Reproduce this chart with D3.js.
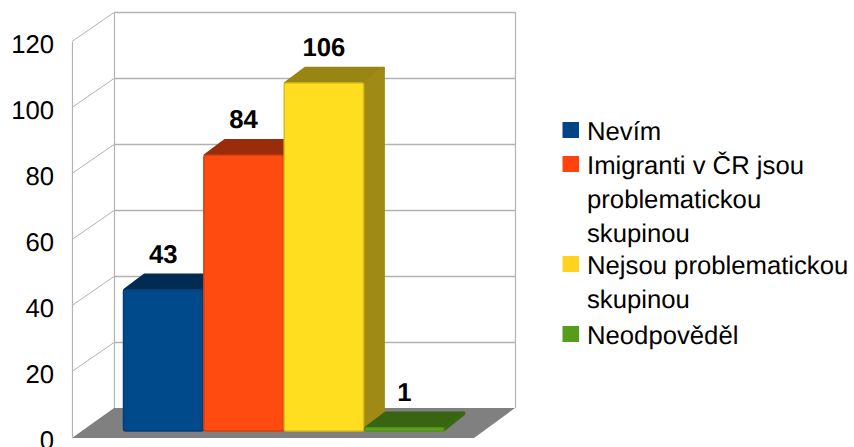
<!DOCTYPE html>
<html><head><meta charset="utf-8">
<script src="https://cdn.jsdelivr.net/npm/d3@7"></script>
<style>html,body{margin:0;padding:0;background:#fff}svg{display:block}text{font-family:"Liberation Sans",Arial,sans-serif;fill:#000;text-rendering:geometricPrecision}</style>
</head><body><svg id="c" width="854" height="447"></svg>
<script>
const categories=["Nevím","Imigranti v ČR jsou problematickou skupinou","Nejsou problematickou skupinou","Neodpověděl"];
const legendLines=[["Nevím"],["Imigranti v ČR jsou","problematickou","skupinou"],["Nejsou problematickou","skupinou"],["Neodpověděl"]];
const values=[43,84,106,1];
const colors=["#004586","#ff420e","#ffd320","#579d1c"];
const barColors=["#004a8c","#ff4a10","#ffde20","#5fa81e"];
const tickValues=[0,20,40,60,80,100,120];

const svg=d3.select("#c");
const yBack=d3.scaleLinear().domain([0,120]).range([408,12]);
const yFront=d3.scaleLinear().domain([0,120]).range([431,37]);
const x=d3.scaleBand().domain(categories).range([123.5,444]).paddingInner(0.012);
const wallL=72,wallB=114,wallR=515,floorDY=30,floorRF=474;
const dx=21,dy=16;
const grid="#b3b3b3";

svg.append("path").attr("fill","#808080")
 .attr("d",d3.line()([[wallB,yBack(0)],[wallR,yBack(0)],[floorRF,yBack(0)+floorDY],[wallL,yBack(0)+floorDY]])+"Z");
svg.selectAll("line.bk").data(tickValues.slice(1)).join("line").attr("class","bk")
 .attr("x1",wallB).attr("x2",wallR).attr("y1",d=>yBack(d)+.5).attr("y2",d=>yBack(d)+.5)
 .attr("stroke",grid).attr("stroke-width",1.3);
svg.selectAll("line.sd").data(tickValues.slice(1)).join("line").attr("class","sd")
 .attr("x1",wallL).attr("x2",wallB).attr("y1",d=>yBack(d)+floorDY-.5).attr("y2",d=>yBack(d)+.5)
 .attr("stroke",grid).attr("stroke-width",1);
[[wallL,yBack(120)+floorDY,wallL,yBack(0)+floorDY],[wallB,yBack(120),wallB,yBack(0)],[wallR,yBack(120),wallR,yBack(0)]].forEach(l=>{
 svg.append("line").attr("x1",l[0]+.5).attr("x2",l[2]+.5).attr("y1",l[1]).attr("y2",l[3]).attr("stroke",grid).attr("stroke-width",1.2);
});
svg.selectAll("text.t").data(tickValues).join("text").attr("class","t")
 .attr("x",54).attr("y",d=>yBack(d)+floorDY).attr("dy","0.42em").attr("text-anchor","end")
 .style("font-size","25.7px").text(d=>d);

const g=svg.selectAll("g.b").data(categories).join("g").attr("class","b");
g.each(function(c,i){
 const s=d3.select(this),col=d3.color(barColors[i]);
 const L=x(c),R=L+x.bandwidth(),T=yFront(values[i]),B=yFront(0);
 const top=d3.rgb(col.r*.6,col.g*.6,col.b*.6);
 const side=d3.rgb(col.r*.62,col.g*.62,col.b*.62);
 s.append("path").attr("fill",top).attr("stroke",top).attr("stroke-width",2.5).attr("stroke-linejoin","round")
  .attr("d",d3.line()([[L+1,T],[L+dx,T-dy+1],[R+dx-1,T-dy+1],[R,T]])+"Z");
 s.append("path").attr("fill",side).attr("stroke",side).attr("stroke-width",2.5).attr("stroke-linejoin","round")
  .attr("d",d3.line()([[R,T],[R+dx-1,T-dy+1],[R+dx-1,B-dy-1],[R,B-1]])+"Z");
 s.append("rect").attr("x",L).attr("y",T).attr("width",R-L).attr("height",B-T).attr("rx",2)
  .attr("fill",col).attr("stroke",d3.rgb(col.r*.85,col.g*.85,col.b*.85)).attr("stroke-width",1.5);
 s.append("text").attr("x",(L+R)/2).attr("y",T-27).attr("text-anchor","middle")
  .style("font-size","25.7px").style("font-weight","bold").text(values[i]);
});

const legendTop=[131,165,265,335];
legendLines.forEach((lines,i)=>{
 svg.append("rect").attr("x",562.5).attr("y",legendTop[i]-9).attr("width",16.5).attr("height",16).attr("fill",colors[i]);
 lines.forEach((t,j)=>{
  svg.append("text").attr("x",587).attr("y",legendTop[i]+j*33.7).attr("dy","0.36em")
   .style("font-size","25.7px").text(t);
 });
});
</script></body></html>
